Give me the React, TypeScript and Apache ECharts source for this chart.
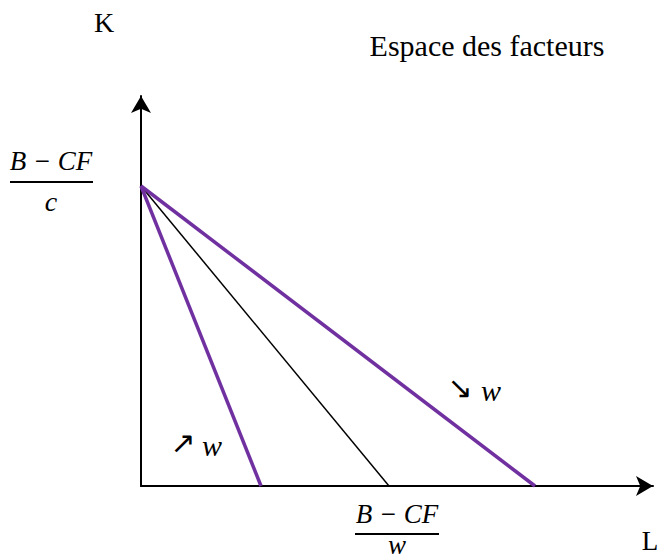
import React, { useEffect, useRef } from "react";
import * as echarts from "echarts";

// Budget lines in factor space (L on x, K on y)
const kIntercept = 10; // (B - CF)/c
const lInterceptHighW = 3; // ↗ w
const lInterceptBase = 6.2; // (B - CF)/w
const lInterceptLowW = 9.85; // ↘ w
const xMax = 12.8;
const yMax = 13;

const lineHigh = [[0, kIntercept], [lInterceptHighW, 0]];
const lineBase = [[0, kIntercept], [lInterceptBase, 0]];
const lineLow = [[0, kIntercept], [lInterceptLowW, 0]];

const PURPLE = "#7030A0";
const SERIF = "'Liberation Serif', 'Times New Roman', serif";

export default function App() {
  const ref = useRef<HTMLDivElement>(null);
  useEffect(() => {
    if (!ref.current) return;
    const chart = echarts.init(ref.current, undefined, { renderer: "svg" });
    const textStyle = (t: string, size: number, italic = false, family = SERIF) => ({
      text: t,
      fontFamily: family,
      fontSize: size,
      fontStyle: italic ? "italic" : "normal",
      fill: "#000",
      textAlign: "center",
      textVerticalAlign: "middle",
    });
    const axisCommon = {
      axisLine: { show: true, symbol: ["none", "arrow"], symbolSize: [15, 17], lineStyle: { color: "#000", width: 2 } },
      axisTick: { show: false },
      axisLabel: { show: false },
      splitLine: { show: false },
    };
    const ARROWFONT = "'DejaVu Sans', sans-serif";
    chart.setOption({
      animation: false,
      backgroundColor: "#fff",
      grid: { left: 141, top: 96, width: 512, height: 390, containLabel: false },
      xAxis: { type: "value", min: 0, max: xMax, ...axisCommon },
      yAxis: { type: "value", min: 0, max: yMax, ...axisCommon },
      series: [
        { type: "line", data: lineBase, symbol: "none", lineStyle: { color: "#000", width: 1.5 }, z: 2 },
        { type: "line", data: lineHigh, symbol: "none", lineStyle: { color: PURPLE, width: 3.5 }, z: 3 },
        { type: "line", data: lineLow, symbol: "none", lineStyle: { color: PURPLE, width: 3.5 }, z: 3 },
      ],
      graphic: [
        { type: "text", x: 104, y: 22, style: textStyle("K", 28) },
        { type: "text", x: 487, y: 45, style: textStyle("Espace des facteurs", 30) },
        { type: "text", x: 650, y: 541, style: textStyle("L", 27) },
        { type: "text", x: 51, y: 161, style: textStyle("B − CF", 27, true) },
        { type: "line", shape: { x1: 10, y1: 182, x2: 93, y2: 182 }, style: { stroke: "#000", lineWidth: 2 } },
        { type: "text", x: 51, y: 201, style: textStyle("c", 28, true) },
        { type: "text", x: 397, y: 514, style: textStyle("B − CF", 27, true) },
        { type: "line", shape: { x1: 355, y1: 534, x2: 439, y2: 534 }, style: { stroke: "#000", lineWidth: 2 } },
        { type: "text", x: 397, y: 545, style: textStyle("w", 27, true) },
        { type: "text", x: 460, y: 387, style: textStyle("↘", 30, false, ARROWFONT) },
        { type: "text", x: 491, y: 390, style: textStyle("w", 30, true) },
        { type: "text", x: 183, y: 442, style: textStyle("↗", 30, false, ARROWFONT) },
        { type: "text", x: 212, y: 445, style: textStyle("w", 30, true) },
      ],
    });
    return () => chart.dispose();
  }, []);
  return <div ref={ref} style={{ position: "fixed", left: 0, top: 0, width: 662, height: 560 }} />;
}
